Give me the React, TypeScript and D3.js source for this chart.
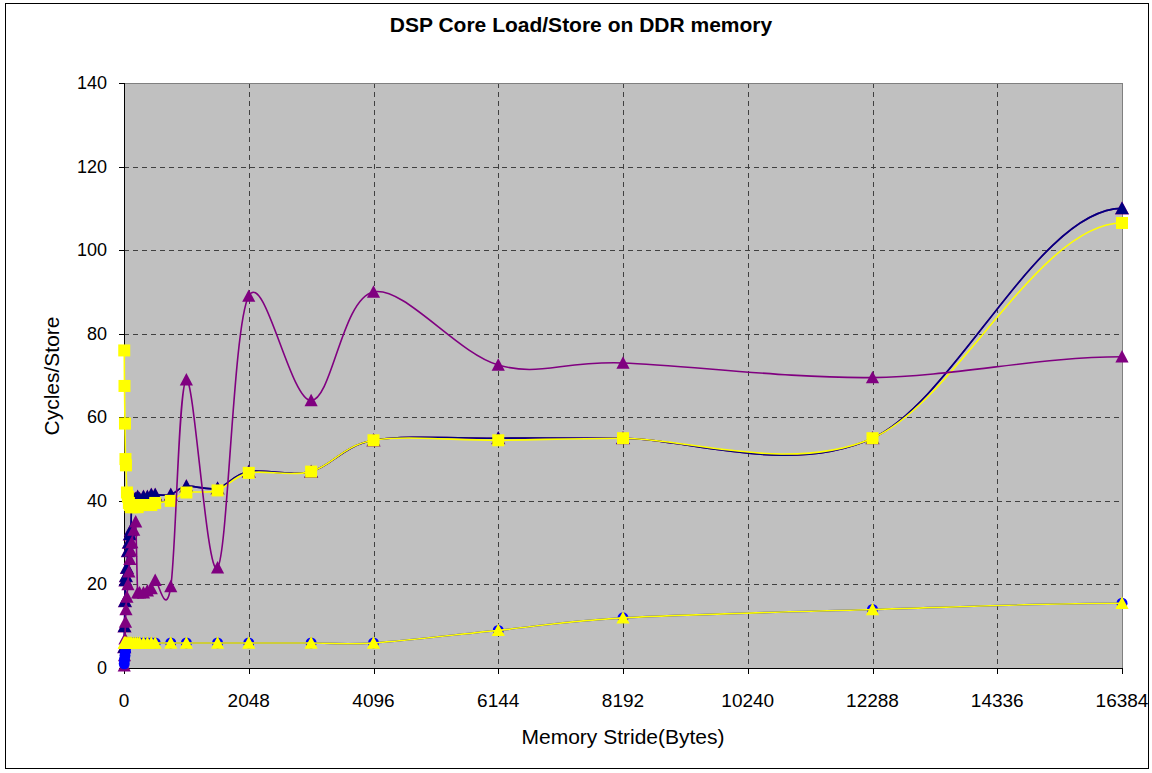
import React from 'react';
import * as d3 from 'd3';

const strides = [4, 8, 16, 24, 32, 48, 64, 80, 96, 112, 128, 160, 192, 224, 256, 320, 384, 448, 512, 768, 1024, 1536, 2048, 3072, 4096, 6144, 8192, 12288, 16384];

const navyTri = [5, 10, 16, 21, 22, 24, 28, 30, 32, 33, 40, 40.5, 40.5, 41, 40.5, 41, 41, 41.5, 41.5, 41.5, 43.5, 43, 47, 47, 54.5, 55, 55, 55, 110];
const purpleHidden = [5, 10, 16, 21, 22, 24, 28, 30, 32, 33, 40, 40.5, 40.5, 41, 40.5, 41, 41, 41.5, 41.5, 41.5, 43.5, 43, 47, 47, 54.5, 55, 55, 55, 110];
const yellowSq = [76, 67.5, 58.5, 50, 48.5, 42, 41, 39.5, 39, 38.5, 38.5, 38.5, 38.5, 38.5, 39, 39, 39, 39, 39.5, 40, 42, 42.5, 46.7, 47, 54.5, 54.5, 55, 55, 106.5];
const purpleTri = [0.5, 3, 7, 11, 14, 17, 20, 23, 26, 28, 30, 33, 35, 18, 18, 18, 18.5, 19, 21, 19.5, 69, 24, 89, 64, 90, 72.5, 73, 69.5, 74.5];
const blueCirc = [1, 2, 3, 4, 5, 6, 6, 6, 6, 6, 6, 6, 6, 6, 6, 6, 6, 6, 6, 6, 6, 6, 6, 6, 6, 9, 12, 14, 15.5];
const yellowTri = [6, 6, 6, 6, 6, 6, 6, 6, 6, 6, 6, 6, 6, 6, 6, 6, 6, 6, 6, 6, 6, 6, 6, 6, 6, 9, 12, 14, 15.5];

const xTicks = [0, 2048, 4096, 6144, 8192, 10240, 12288, 14336, 16384];
const yTicks = [0, 20, 40, 60, 80, 100, 120, 140];

const title = 'DSP Core Load/Store on DDR memory';
const xTitle = 'Memory Stride(Bytes)';
const yTitle = 'Cycles/Store';

const FONT = '"Liberation Sans", Arial, sans-serif';

type Marker = 'tri' | 'sq' | 'circ';

// Excel-like smoothed Bezier curve (Catmull-Rom interior tangents, flat end tangents)
function excelCurve(context: any) {
  let pts: [number, number][] = [];
  return {
    areaStart() {},
    areaEnd() {},
    lineStart() {
      pts = [];
    },
    point(x: number, y: number) {
      pts.push([x, y]);
    },
    lineEnd() {
      const n = pts.length;
      if (!n) return;
      context.moveTo(pts[0][0], pts[0][1]);
      if (n === 1) return;
      const tan = (i: number): [number, number] => {
        if (i === 0) return [(pts[1][0] - pts[0][0]) / 3, 0];
        if (i === n - 1) return [(pts[n - 1][0] - pts[n - 2][0]) / 3, 0];
        return [(pts[i + 1][0] - pts[i - 1][0]) / 6, (pts[i + 1][1] - pts[i - 1][1]) / 6];
      };
      for (let i = 0; i < n - 1; i++) {
        const a = tan(i);
        const b = tan(i + 1);
        context.bezierCurveTo(
          pts[i][0] + a[0],
          pts[i][1] + a[1],
          pts[i + 1][0] - b[0],
          pts[i + 1][1] - b[1],
          pts[i + 1][0],
          pts[i + 1][1]
        );
      }
    },
  };
}

export default function App() {
  const W = 1152, H = 773;
  const L = 124, R = 1122, T = 83, B = 668;
  const x = d3.scaleLinear().domain([0, 16384]).range([L, R]);
  const y = d3.scaleLinear().domain([0, 140]).range([B, T]);
  const line = d3
    .line<[number, number]>()
    .x((d) => x(d[0]))
    .y((d) => y(d[1]))
    .curve(excelCurve as any);

  const pts = (vals: number[]) => strides.map((s, i) => [s, vals[i]] as [number, number]);

  const marker = (type: Marker, cx: number, cy: number, color: string, size: number, key: string) => {
    if (type === 'tri') {
      const h = size * 0.95;
      const w = size * 1.1;
      const p = `M${cx},${cy - h / 2 - 1}L${cx + w / 2},${cy + h / 2}L${cx - w / 2},${cy + h / 2}Z`;
      return <path key={key} d={p} fill={color} />;
    }
    if (type === 'sq') {
      return <rect key={key} x={cx - size / 2} y={cy - size / 2} width={size} height={size} fill={color} />;
    }
    return <circle key={key} cx={cx} cy={cy} r={size / 2} fill={color} />;
  };

  const series: { name: string; vals: number[]; color: string; marker: Marker; size: number }[] = [
    { name: 'ph', vals: purpleHidden, color: '#800080', marker: 'tri', size: 13 },
    { name: 'navy', vals: navyTri, color: '#000080', marker: 'tri', size: 12 },
    { name: 'ysq', vals: yellowSq, color: '#FFFF00', marker: 'sq', size: 12 },
    { name: 'pur', vals: purpleTri, color: '#800080', marker: 'tri', size: 12 },
    { name: 'blue', vals: blueCirc, color: '#0000FF', marker: 'circ', size: 11 },
    { name: 'ytri', vals: yellowTri, color: '#FFFF00', marker: 'tri', size: 12 },
  ];

  return (
    <svg
      width={W}
      height={H}
      style={{ position: 'absolute', left: 0, top: 0, background: '#fff' }}
      fontFamily={FONT}
    >
      <rect x={0} y={0} width={W} height={H} fill="#fff" />
      <rect x={5.5} y={3.5} width={1143} height={765} fill="none" stroke="#000" strokeWidth={1} />
      <text x={581} y={32} textAnchor="middle" fontSize={21} fontWeight="bold">
        {title}
      </text>
      <rect x={L} y={T} width={R - L} height={B - T} fill="#C0C0C0" />
      {yTicks.slice(1, -1).map((t) => (
        <line key={'gy' + t} x1={L} x2={R} y1={Math.round(y(t)) + 0.5} y2={Math.round(y(t)) + 0.5} stroke="#404040" strokeDasharray="5,4" />
      ))}
      {xTicks.slice(1, -1).map((t) => (
        <line key={'gx' + t} x1={Math.round(x(t)) + 0.5} x2={Math.round(x(t)) + 0.5} y1={T} y2={B} stroke="#404040" strokeDasharray="5,4" />
      ))}
      <line x1={L} x2={R} y1={T + 0.5} y2={T + 0.5} stroke="#808080" />
      <line x1={R + 0.5} x2={R + 0.5} y1={T} y2={B} stroke="#808080" />
      <line x1={L + 0.5} x2={L + 0.5} y1={T} y2={B} stroke="#000" />
      <line x1={L} x2={R + 1} y1={B + 0.5} y2={B + 0.5} stroke="#000" />
      {yTicks.map((t) => (
        <g key={'yt' + t}>
          <line x1={L - 5} x2={L} y1={Math.round(y(t)) + 0.5} y2={Math.round(y(t)) + 0.5} stroke="#000" />
          <text x={107} y={y(t) + 6} textAnchor="end" fontSize={18}>
            {t}
          </text>
        </g>
      ))}
      {xTicks.map((t) => (
        <g key={'xt' + t}>
          <line x1={Math.round(x(t)) + 0.5} x2={Math.round(x(t)) + 0.5} y1={B} y2={B + 6} stroke="#000" />
          <text x={x(t)} y={707} textAnchor="middle" fontSize={19}>
            {t}
          </text>
        </g>
      ))}
      <text x={623} y={744} textAnchor="middle" fontSize={21}>
        {xTitle}
      </text>
      <text transform={`translate(59,376) rotate(-90)`} textAnchor="middle" fontSize={21}>
        {yTitle}
      </text>
      {series.map((s) => (
        <g key={s.name}>
          <path d={line(pts(s.vals)) || ''} fill="none" stroke={s.color} strokeWidth={1.6} />
          {pts(s.vals).map((p, i) => marker(s.marker, x(p[0]), y(p[1]), s.color, s.size, s.name + i))}
        </g>
      ))}
    </svg>
  );
}
